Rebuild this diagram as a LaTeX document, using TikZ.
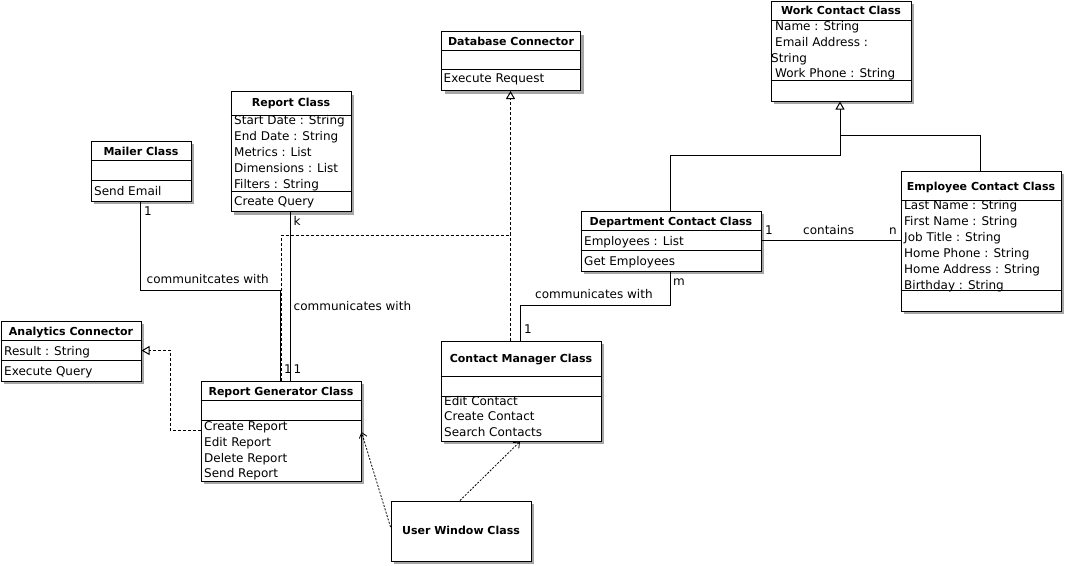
\documentclass[tikz,border=0pt]{standalone}
\usepackage{fontspec}
\setmainfont{DejaVu Sans}
\usetikzlibrary{arrows.meta,shadows}

\begin{document}
\begin{tikzpicture}[x=1pt,y=-1pt,
    box/.style={draw,fill=white,line width=1pt,anchor=north west,inner sep=0pt,
      general shadow={fill=black!35,shadow xshift=3pt,shadow yshift=-3pt}},
    ttl/.style={font=\fontsize{11}{13}\selectfont\bfseries,inner sep=0pt,anchor=base},
    txt/.style={font=\fontsize{12}{13}\selectfont,inner sep=0pt,anchor=base west},
    sep/.style={line width=1pt},
    link/.style={line width=1pt},
    real/.style={line width=1pt,dash pattern=on 3pt off 2pt},
    realtip/.style={real,-{Triangle[open,length=8pt,width=9pt]}},
    dep/.style={line width=0.8pt,dash pattern=on 2pt off 1.5pt,-{Straight Barb[length=5pt,width=8pt]}},
    gen/.style={line width=1pt,-{Triangle[open,length=8pt,width=9pt]}}
  ]
  \useasboundingbox (0,0) rectangle (1065,565);

  % class boxes
  \node[box,minimum width=140pt,minimum height=100pt] (wcc) at (770.5,0.5) {};
  \node[box,minimum width=139pt,minimum height=59pt] (db) at (441,31) {};
  \node[box,minimum width=120pt,minimum height=120pt] (rep) at (230.5,91) {};
  \node[box,minimum width=100pt,minimum height=60pt] (mail) at (90.5,140.5) {};
  \node[box,minimum width=140pt,minimum height=60pt] (ana) at (0.5,320.5) {};
  \node[box,minimum width=160pt,minimum height=100pt] (rgen) at (200.5,380.5) {};
  \node[box,minimum width=140pt,minimum height=60pt] (uwc) at (390.5,500.5) {};
  \node[box,minimum width=160pt,minimum height=100pt] (cmc) at (440.5,340.5) {};
  \node[box,minimum width=180pt,minimum height=60pt] (dcc) at (580.5,210.5) {};
  \node[box,minimum width=160pt,minimum height=140pt] (ecc) at (900.5,170.5) {};

  % compartments
  \draw[sep] (wcc.west |- 0,20) -- (wcc.east |- 0,20);
  \draw[sep] (wcc.west |- 0,80) -- (wcc.east |- 0,80);
  \draw[sep] (db.west |- 0,50) -- (db.east |- 0,50);
  \draw[sep] (db.west |- 0,69.5) -- (db.east |- 0,69.5);
  \draw[sep] (rep.west |- 0,115.5) -- (rep.east |- 0,115.5);
  \draw[sep] (rep.west |- 0,191.5) -- (rep.east |- 0,191.5);
  \draw[sep] (mail.west |- 0,160.5) -- (mail.east |- 0,160.5);
  \draw[sep] (mail.west |- 0,180.5) -- (mail.east |- 0,180.5);
  \draw[sep] (ana.west |- 0,340.5) -- (ana.east |- 0,340.5);
  \draw[sep] (ana.west |- 0,360.5) -- (ana.east |- 0,360.5);
  \draw[sep] (rgen.west |- 0,400.5) -- (rgen.east |- 0,400.5);
  \draw[sep] (rgen.west |- 0,420.5) -- (rgen.east |- 0,420.5);
  \draw[sep] (cmc.west |- 0,376) -- (cmc.east |- 0,376);
  \draw[sep] (cmc.west |- 0,396) -- (cmc.east |- 0,396);
  \draw[sep] (dcc.west |- 0,230.5) -- (dcc.east |- 0,230.5);
  \draw[sep] (dcc.west |- 0,250.5) -- (dcc.east |- 0,250.5);
  \draw[sep] (ecc.west |- 0,200.5) -- (ecc.east |- 0,200.5);
  \draw[sep] (ecc.west |- 0,290.5) -- (ecc.east |- 0,290.5);

  % titles
  \node[ttl] (wcc-t) at (wcc.north |- 0,14.5) {Work Contact Class};
  \node[ttl] (db-t) at (db.north |- 0,45) {Database Connector};
  \node[ttl] (rep-t) at (rep.north |- 0,106.5) {Report Class};
  \node[ttl] (mail-t) at (mail.north |- 0,155.5) {Mailer Class};
  \node[ttl] (ana-t) at (ana.north |- 0,335.5) {Analytics Connector};
  \node[ttl] (rgen-t) at (rgen.north |- 0,395.5) {Report Generator Class};
  \node[ttl] (uwc-t) at (uwc.north |- 0,534.5) {User Window Class};
  \node[ttl] (cmc-t) at (cmc.north |- 0,362) {Contact Manager Class};
  \node[ttl] (dcc-t) at (dcc.north |- 0,225.5) {Department Contact Class};
  \node[ttl] (ecc-t) at (ecc.north |- 0,190.5) {Employee Contact Class};

  % members
  \node[txt] (wcc-1) at (775,30.7) {Name : String};
  \node[txt] (wcc-2) at (775,46.3) {Email Address :};
  \node[txt] (wcc-3) at (771,62) {String};
  \node[txt] (wcc-4) at (775,77.5) {Work Phone : String};
  \node[txt] (db-1) at (443.5,82.3) {Execute Request};
  \node[txt] (rep-1) at (234,124.3) {Start Date : String};
  \node[txt] (rep-2) at (234,140.3) {End Date : String};
  \node[txt] (rep-3) at (234,156.3) {Metrics : List};
  \node[txt] (rep-4) at (234,172.3) {Dimensions : List};
  \node[txt] (rep-5) at (234,188.3) {Filters : String};
  \node[txt] (rep-6) at (234,205) {Create Query};
  \node[txt] (mail-1) at (94,195) {Send Email};
  \node[txt] (ana-1) at (4,355) {Result : String};
  \node[txt] (ana-2) at (4,375) {Execute Query};
  \node[txt] (rgen-1) at (204,430.7) {Create Report};
  \node[txt] (rgen-2) at (204,446.3) {Edit Report};
  \node[txt] (rgen-3) at (204,462) {Delete Report};
  \node[txt] (rgen-4) at (204,477.5) {Send Report};
  \node[txt] (cmc-1) at (444,405) {Edit Contact};
  \node[txt] (cmc-2) at (444,420.7) {Create Contact};
  \node[txt] (cmc-3) at (444,436.5) {Search Contacts};
  \node[txt] (dcc-1) at (584,245) {Employees : List};
  \node[txt] (dcc-2) at (584,265) {Get Employees};
  \node[txt] (ecc-1) at (904,209.3) {Last Name : String};
  \node[txt] (ecc-2) at (904,225.3) {First Name : String};
  \node[txt] (ecc-3) at (904,241.3) {Job Title : String};
  \node[txt] (ecc-4) at (904,257.3) {Home Phone : String};
  \node[txt] (ecc-5) at (904,273.3) {Home Address : String};
  \node[txt] (ecc-6) at (904,289.3) {Birthday : String};

  % generalization
  \draw[gen] (dcc.north -| 670,0) |- (840,155) -- (wcc.south -| 840,0);
  \draw[link] (ecc.north -| 980,0) |- (840,135);

  % associations
  \draw[link] (dcc.east |- 0,240) -- (ecc.west |- 0,240);
  \node[txt] (l-c1) at (765,234) {1};
  \node[txt] (l-ct) at (803,234) {contains};
  \node[txt] (l-cn) at (889,234) {n};

  \draw[link] (cmc.north -| 520.5,0) |- (670,305) -- (dcc.south -| 670,0);
  \node[txt] (l-m1) at (524,333.5) {1};
  \node[txt] (l-mt) at (535,298.5) {communicates with};
  \node[txt] (l-mm) at (673,285.5) {m};

  \draw[link] (mail.south -| 140,0) |- (280,290) -- (rgen.north -| 280,0);
  \node[txt] (l-a1) at (144,215) {1};
  \node[txt] (l-at) at (146.5,283.5) {communitcates with};
  \node[txt] (l-a2) at (284,373) {1};

  \draw[link] (rep.south -| 290.5,0) -- (rgen.north -| 290.5,0);
  \node[txt] (l-rk) at (293.5,225) {k};
  \node[txt] (l-rt) at (293.5,310) {communicates with};
  \node[txt] (l-r1) at (293.5,373) {1};

  % realizations
  \draw[realtip] (rgen.north -| 281,0) |- (510.5,235) -- (db.south -| 510.5,0);
  \draw[real] (cmc.north -| 510.5,0) -- (510.5,235);
  \draw[realtip] (rgen.west |- 0,430.5) -| (170.5,350.5) -- (ana.east |- 0,350.5);

  % dependencies
  \draw[dep] (uwc.west |- 0,527) -- (rgen.east |- 0,432);
  \draw[dep] (uwc.north -| 460,0) -- (cmc.south -| 520,0);
\end{tikzpicture}
\end{document}
